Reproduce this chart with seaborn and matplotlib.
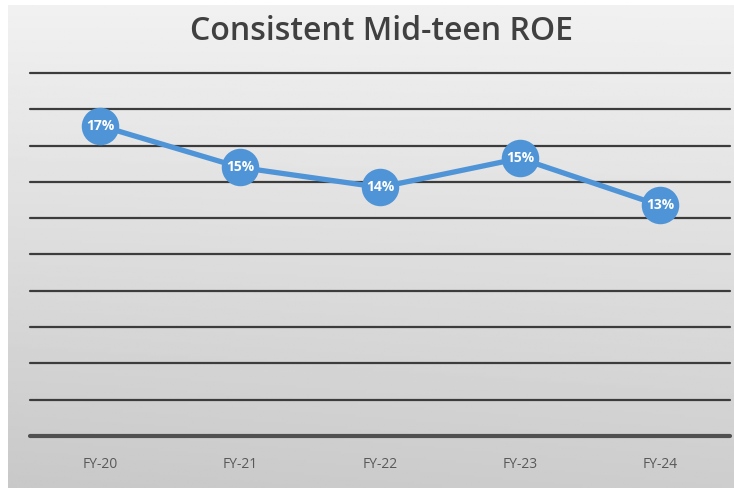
import matplotlib
matplotlib.use("Agg")
import matplotlib.pyplot as plt
import seaborn as sns
import numpy as np
import pandas as pd

categories = ["FY-20", "FY-21", "FY-22", "FY-23", "FY-24"]
roe = [17.1, 14.8, 13.7, 15.3, 12.7]
labels = ["17%", "15%", "14%", "15%", "13%"]
grid_levels = list(range(2, 21, 2))

sns.set_theme(style="white")
plt.rcParams['font.family'] = ['Open Sans', 'DejaVu Sans']

fig = plt.figure(figsize=(7.34, 4.88), dpi=100)
fig.patch.set_facecolor("white")

# gradient panel behind the chart
bg = fig.add_axes([8 / 734, 0, 1 - 8 / 734, 1 - 5 / 488])
yy = np.linspace(0, 1, 200)[:, None]
xx = np.linspace(0, 1, 200)[None, :]
shade = 0.945 - 0.16 * yy + 0.02 * xx * yy
bg.imshow(shade, cmap="gray", vmin=0, vmax=1, aspect="auto", extent=[0, 1, 0, 1], origin="upper")
bg.axis("off")

ax = fig.add_axes([30 / 734, 52 / 488, 700 / 734, 363 / 488])
ax.patch.set_alpha(0)

df = pd.DataFrame({"x": range(len(categories)), "roe": roe})
for lv in grid_levels:
    ax.axhline(lv, color="#3c3c3c", lw=1.6, zorder=1, clip_on=False)
ax.axhline(0, color="#505050", lw=3, zorder=1, clip_on=False)

sns.lineplot(data=df, x="x", y="roe", ax=ax, color="#4f94d6", lw=3.8,
             marker="o", markersize=27, markeredgewidth=0, zorder=3)
for i, (v, t) in enumerate(zip(roe, labels)):
    ax.text(i, v, t, ha="center", va="center", color="white",
            fontsize=10, fontweight="bold", zorder=4)

ax.set_xlim(-0.5, len(categories) - 0.5)
ax.set_ylim(0, 20)
ax.set_xticks(range(len(categories)))
ax.set_xticklabels(categories, fontsize=10, color="#595959")
ax.tick_params(axis="x", length=0, pad=15)
ax.set_yticks([])
ax.set_xlabel("")
ax.set_ylabel("")
sns.despine(ax=ax, left=True, bottom=True)

fig.text(0.52, 0.935, "Consistent Mid-teen ROE", ha="center", va="center",
         fontsize=23, color="#404040", fontweight="semibold")

fig.savefig("out.png", dpi=100)
